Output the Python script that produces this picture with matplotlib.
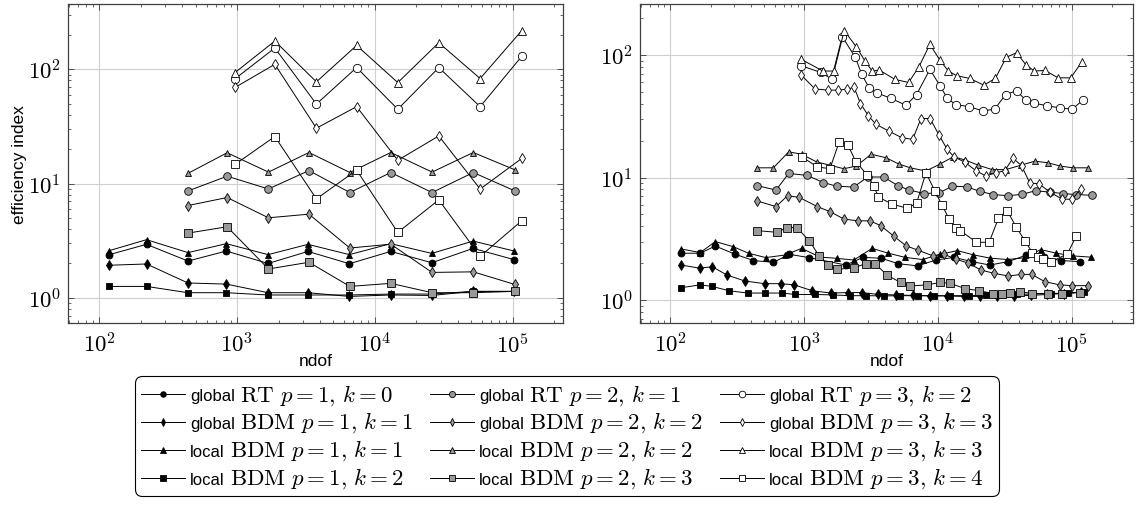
import numpy as np
import matplotlib
matplotlib.use('Agg')
import matplotlib.pyplot as plt
from matplotlib import ticker
from matplotlib.lines import Line2D
from matplotlib.offsetbox import AnchoredOffsetbox, DrawingArea, HPacker, VPacker, TextArea

plt.rcParams['font.family'] = ['Liberation Sans', 'DejaVu Sans']
plt.rcParams['mathtext.fontset'] = 'cm'

# ---------------- left panel: uniform refinement ----------------
left_ndof_p1 = [118, 220, 440, 836, 1679, 3272, 6540, 13060, 25950, 51750, 102800]
left_ndof_p2 = [441, 847, 1690, 3326, 6590, 13060, 26060, 51900, 104000]
left_ndof_p3 = [966, 1880, 3767, 7380, 14690, 29150, 58200, 116700]

left_rt1 = [2.39, 2.94, 2.10, 2.57, 2.00, 2.55, 1.99, 2.55, 2.03, 2.71, 2.16]
left_bdm1 = [1.93, 1.98, 1.35, 1.32, 1.11, 1.11, 1.03, 1.06, 1.05, 1.14, 1.14]
left_lbdm1_k1 = [2.59, 3.23, 2.49, 2.98, 2.39, 2.94, 2.39, 2.98, 2.45, 3.14, 2.57]
left_lbdm1_k2 = [1.26, 1.26, 1.11, 1.11, 1.06, 1.06, 1.06, 1.08, 1.08, 1.14, 1.14]

left_rt2 = [8.63, 11.6, 8.97, 13.0, 8.35, 12.5, 8.35, 12.5, 8.63]
left_bdm2 = [6.43, 7.55, 5.02, 5.40, 2.73, 2.95, 1.67, 1.69, 1.31]
left_lbdm2_k2 = [12.3, 18.6, 12.6, 18.7, 12.5, 18.7, 12.6, 18.7, 13.2]
left_lbdm2_k3 = [3.69, 4.19, 1.79, 2.05, 1.26, 1.34, 1.11, 1.11, 1.14]

left_rt3 = [82.5, 153.5, 49.6, 103.5, 44.7, 103.5, 47.1, 129.8]
left_bdm3 = [69.3, 110.5, 30.5, 47.1, 16.0, 26.1, 8.96, 16.6]
left_lbdm3_k3 = [93.6, 176.6, 77.6, 161.7, 76.5, 170.6, 83.0, 218.0]
left_lbdm3_k4 = [14.7, 25.8, 7.35, 13.1, 3.74, 7.2, 2.31, 4.73]

# ---------------- right panel: adaptive refinement ----------------
right_rt1_ndof = [120, 167, 216, 305, 417, 587, 773, 1084, 2043, 2748, 3767, 5030,
                  7010, 9610, 13160, 17740, 24320, 33500, 45600, 61500, 82300, 114000]
right_rt1 = [2.41, 2.41, 2.76, 2.36, 2.10, 2.03, 2.36, 2.22, 1.93, 2.23, 2.19, 1.98,
             1.90, 2.12, 2.23, 2.06, 1.93, 2.06, 2.33, 2.23, 2.10, 2.06]

right_bdm1_ndof = [120, 165, 205, 264, 359, 504, 670, 838, 1148, 1581, 2104, 2706, 3573,
                   4866, 6500, 8700, 11600, 15500, 20700, 27600, 36800, 49000, 65500,
                   87000, 116000]
right_bdm1 = [1.93, 1.82, 1.87, 1.60, 1.43, 1.36, 1.36, 1.33, 1.19, 1.14, 1.15, 1.15, 1.11,
              1.10, 1.09, 1.08, 1.08, 1.07, 1.07, 1.07, 1.08, 1.09, 1.11, 1.13, 1.16]

right_lbdm1_k1_ndof = [120, 167, 216, 293, 383, 515, 718, 955, 1309, 1741, 2344, 3208,
                       4246, 5650, 7640, 10290, 13930, 18230, 24320, 32900, 43850, 58300,
                       76400, 102300, 137600]
right_lbdm1_k1 = [2.61, 2.44, 3.00, 2.73, 2.41, 2.22, 2.33, 2.64, 2.24, 2.19, 2.12, 2.64,
                  2.41, 2.23, 2.14, 2.36, 2.53, 2.34, 2.20, 2.14, 2.21, 2.58, 2.41, 2.29, 2.24]

right_lbdm1_k2_ndof = [120, 167, 205, 274, 377, 504, 678, 857, 1208, 1644, 2188, 2911,
                       3945, 5212, 7010, 9340, 12300, 17000, 22700, 30200, 39100, 50600,
                       69200, 94000, 123000]
right_lbdm1_k2 = [1.26, 1.33, 1.29, 1.19, 1.14, 1.14, 1.14, 1.11, 1.11, 1.10, 1.085, 1.085,
                  1.08, 1.085, 1.085, 1.085, 1.085, 1.085, 1.10, 1.10, 1.11, 1.12, 1.13,
                  1.14, 1.17]

right_rt2_ndof = [441, 615, 764, 1052, 1385, 1741, 2330, 2979, 3930, 4970, 6080, 7870,
                  10170, 12790, 16340, 20550, 25830, 33420, 42500, 53400, 68200, 85700,
                  107700, 140800]
right_rt2 = [8.6, 7.9, 10.8, 10.4, 9.1, 8.5, 8.35, 10.1, 10.1, 8.6, 7.9, 7.4, 7.5, 8.5,
             8.4, 7.7, 7.26, 7.1, 7.3, 7.8, 7.6, 7.4, 7.26, 7.16]

right_bdm2_ndof = [441, 615, 751, 918, 1250, 1553, 1985, 2523, 3083, 3724, 4640, 5760,
                   7010, 9080, 11090, 13600, 16830, 20800, 26180, 33500, 41900, 49800,
                   62900, 80900, 100400, 132500]
right_bdm2 = [6.45, 5.79, 7.12, 6.87, 5.79, 5.27, 4.57, 4.43, 4.43, 4.05, 3.33, 2.77,
              2.56, 2.30, 2.36, 2.15, 2.00, 1.76, 1.65, 1.57, 1.62, 1.62, 1.41, 1.33,
              1.31, 1.31]

right_lbdm2_k2_ndof = [441, 587, 764, 955, 1236, 1553, 1973, 2450, 3155, 4074, 5070, 6190,
                       8100, 10350, 13000, 15880, 19950, 25370, 31900, 41500, 52700, 65900,
                       81800, 101700, 131400]
right_lbdm2_k2 = [12.0, 12.0, 16.2, 15.5, 13.4, 12.6, 11.8, 12.4, 15.5, 14.5, 12.9, 12.0,
                  11.3, 12.9, 14.8, 13.9, 12.6, 11.6, 11.6, 12.6, 13.6, 13.2, 12.4, 12.0, 12.0]

right_lbdm2_k3_ndof = [441, 622, 747, 877, 1089, 1286, 1492, 1751, 2344, 2865, 3381, 4170,
                       5250, 6150, 8230, 10350, 12220, 15880, 20230, 25880, 30200, 34270,
                       40650, 50600, 66500, 84700, 114000]
right_lbdm2_k3 = [3.69, 3.57, 3.90, 3.90, 3.05, 2.30, 1.93, 1.78, 1.83, 1.98, 1.98, 1.59,
                  1.39, 1.30, 1.33, 1.39, 1.37, 1.24, 1.19, 1.13, 1.11, 1.15, 1.17, 1.13,
                  1.13, 1.13, 1.15]

right_rt3_ndof = [950, 1324, 1597, 1917, 2397, 2687, 3064, 3494, 4443, 5747, 6900, 8670,
                  10350, 11730, 13520, 16980, 21550, 26430, 31900, 38500, 45100, 52300,
                  64900, 81500, 100000, 120600]
right_rt3 = [81.8, 72.1, 63.9, 141.3, 96.3, 69.5, 53.3, 49.1, 44.2, 38.9, 47.6, 76.4, 55.7,
             44.2, 39.4, 37.9, 35.0, 36.1, 47.6, 51.1, 42.8, 40.5, 38.5, 37.0, 36.1, 42.8]

right_bdm3_ndof = [950, 1200, 1492, 1791, 2078, 2356, 2627, 3013, 3433, 4317, 5366, 6444,
                   7440, 8700, 10170, 11670, 13160, 15740, 19070, 22640, 26880, 31530,
                   36150, 41950, 48400, 56500, 68300, 84700, 100400, 116000]
right_bdm3 = [68.5, 52.9, 51.7, 51.7, 52.6, 54.4, 40.2, 31.8, 27.2, 23.8, 21.1, 20.5, 30.3,
              30.3, 22.1, 17.0, 14.7, 13.4, 11.4, 10.3, 10.9, 11.4, 14.4, 12.5, 9.0, 8.9,
              7.6, 6.65, 6.65, 8.08]

right_lbdm3_k3_ndof = [950, 1377, 1672, 1985, 2439, 2830, 3208, 3637, 4757, 6010, 7140, 8670,
                       10290, 11900, 13750, 17160, 21940, 26750, 32250, 38500, 45400, 52300,
                       62800, 78800, 97800, 118600]
right_lbdm3_k3 = [92.1, 74.0, 74.0, 158.3, 117.0, 89.9, 74.0, 75.3, 63.2, 59.7, 79.2, 122.0,
                  91.0, 74.0, 67.8, 64.4, 56.8, 64.4, 95.7, 104.5, 82.8, 74.0, 74.8, 65.1,
                  65.1, 88.2]

right_lbdm3_k4_ndof = [955, 1250, 1553, 1824, 2104, 2427, 2944, 3304, 3573, 4530, 5880, 6890,
                       8100, 9440, 10650, 12080, 13550, 14600, 19320, 24040, 28200, 32700,
                       38200, 44360, 50600, 55700, 61000, 70100, 92300, 107700]
right_lbdm3_k4 = [14.8, 12.2, 11.8, 19.6, 18.6, 13.5, 10.5, 8.55, 6.92, 6.07, 5.61, 6.17,
                  10.9, 7.8, 5.98, 4.59, 3.85, 3.69, 2.96, 2.96, 4.65, 5.37, 3.97, 3.05,
                  2.44, 2.25, 2.15, 2.06, 2.38, 3.34]

# legend text: sans word + math part
label_words = ['global', 'global', 'local', 'local'] * 3
label_maths = [
    r'$\mathrm{RT}\ p=1,\,k=0$', r'$\mathrm{BDM}\ p=1,\,k=1$',
    r'$\mathrm{BDM}\ p=1,\,k=1$', r'$\mathrm{BDM}\ p=1,\,k=2$',
    r'$\mathrm{RT}\ p=2,\,k=1$', r'$\mathrm{BDM}\ p=2,\,k=2$',
    r'$\mathrm{BDM}\ p=2,\,k=2$', r'$\mathrm{BDM}\ p=2,\,k=3$',
    r'$\mathrm{RT}\ p=3,\,k=2$', r'$\mathrm{BDM}\ p=3,\,k=3$',
    r'$\mathrm{BDM}\ p=3,\,k=3$', r'$\mathrm{BDM}\ p=3,\,k=4$',
]

GRAY = '#999999'
# marker, face colour, size  (order matches labels)
styles = [
    ('o', 'black', 5), ('d', 'black', 5), ('^', 'black', 5), ('s', 'black', 5),
    ('o', GRAY, 5.5), ('d', GRAY, 5), ('^', GRAY, 5), ('s', GRAY, 5.5),
    ('o', 'white', 6), ('d', 'white', 5), ('^', 'white', 5.5), ('s', 'white', 6),
]

left_series = [
    (left_ndof_p1, left_rt1), (left_ndof_p1, left_bdm1),
    (left_ndof_p1, left_lbdm1_k1), (left_ndof_p1, left_lbdm1_k2),
    (left_ndof_p2, left_rt2), (left_ndof_p2, left_bdm2),
    (left_ndof_p2, left_lbdm2_k2), (left_ndof_p2, left_lbdm2_k3),
    (left_ndof_p3, left_rt3), (left_ndof_p3, left_bdm3),
    (left_ndof_p3, left_lbdm3_k3), (left_ndof_p3, left_lbdm3_k4),
]
right_series = [
    (right_rt1_ndof, right_rt1), (right_bdm1_ndof, right_bdm1),
    (right_lbdm1_k1_ndof, right_lbdm1_k1), (right_lbdm1_k2_ndof, right_lbdm1_k2),
    (right_rt2_ndof, right_rt2), (right_bdm2_ndof, right_bdm2),
    (right_lbdm2_k2_ndof, right_lbdm2_k2), (right_lbdm2_k3_ndof, right_lbdm2_k3),
    (right_rt3_ndof, right_rt3), (right_bdm3_ndof, right_bdm3),
    (right_lbdm3_k3_ndof, right_lbdm3_k3), (right_lbdm3_k4_ndof, right_lbdm3_k4),
]


def enlarged_limits(values, frac=0.1):
    # pgfplots style: enlarge limits by 10% of the (log) range
    lo, hi = np.log10(min(values)), np.log10(max(values))
    d = (hi - lo) * frac
    return 10 ** (lo - d), 10 ** (hi + d)


def setup_axis(ax, series):
    for (x, y), (m, fc, ms) in zip(series, styles):
        ax.plot(x, y, color='black', lw=0.7, marker=m, ms=ms, mfc=fc,
                mec='black', mew=0.6)
    ax.set_xscale('log')
    ax.set_yscale('log')
    allx = [v for x, _ in series for v in x]
    ally = [v for _, y in series for v in y]
    ax.set_xlim(*enlarged_limits(allx))
    ax.set_ylim(*enlarged_limits(ally))
    fmt = ticker.FuncFormatter(lambda v, pos: r'$10^{%d}$' % int(round(np.log10(v))))
    for axis in (ax.xaxis, ax.yaxis):
        axis.set_major_locator(ticker.LogLocator(base=10, numticks=12))
        axis.set_minor_locator(ticker.LogLocator(base=10, subs=np.arange(2, 10), numticks=12))
        axis.set_major_formatter(fmt)
        axis.set_minor_formatter(ticker.NullFormatter())
    ax.tick_params(which='both', direction='in', top=True, right=True,
                   labelsize=16.5, color='0.3')
    ax.tick_params(which='major', length=4, width=0.7)
    ax.tick_params(which='minor', length=2.2, width=0.6)
    ax.tick_params(axis='x', pad=7)
    ax.tick_params(axis='y', pad=5)
    ax.grid(True, which='major', color='#cfcfcf', lw=0.8)
    ax.set_axisbelow(True)
    for s in ax.spines.values():
        s.set_color('0.25')
        s.set_linewidth(0.9)
    ax.set_xlabel('ndof', fontsize=12.5)
    ax.xaxis.set_label_coords(0.5, -0.095)


def legend_entry(word, math, style):
    m, fc, ms = style
    da = DrawingArea(32, 12, 0, 3)
    da.add_artist(Line2D([0, 32], [4.3, 4.3], color='black', lw=0.7))
    da.add_artist(Line2D([16], [4.3], marker=m, ms=ms * 0.8, mfc=fc,
                         mec='black', mew=0.6))
    t_word = TextArea(word, textprops=dict(fontsize=12))
    t_math = TextArea(math, textprops=dict(fontsize=16.5))
    return HPacker(children=[da, t_word, t_math], align='baseline', pad=0, sep=3.5)


fig = plt.figure(figsize=(11.43, 5.06), dpi=100)
W, H = 1143, 506
ax1 = fig.add_axes([68 / W, 1 - 324 / H, (563 - 68) / W, (324 - 5) / H])
ax2 = fig.add_axes([640 / W, 1 - 324 / H, (1133 - 640) / W, (324 - 5) / H])

setup_axis(ax1, left_series)
setup_axis(ax2, right_series)
ax1.set_ylabel('efficiency index', fontsize=12.5)
ax1.yaxis.set_label_coords(-0.083, 0.5)

# legend: 3 columns (p = 1, 2, 3), 4 rows
columns = []
for c in range(3):
    entries = [legend_entry(label_words[i], label_maths[i], styles[i])
               for i in range(4 * c, 4 * c + 4)]
    columns.append(VPacker(children=entries, align='left', pad=0, sep=2.2))
legend_body = HPacker(children=columns, align='top', pad=0, sep=12)
legend_box = AnchoredOffsetbox(loc='center', child=legend_body, pad=0.4, borderpad=0,
                               frameon=True, bbox_to_anchor=(567 / W, 1 - 437 / H),
                               bbox_transform=fig.transFigure, prop=dict(size=10))
legend_box.patch.set_boxstyle('round,pad=0,rounding_size=0.5')
legend_box.patch.set_edgecolor('black')
legend_box.patch.set_linewidth(0.8)
fig.add_artist(legend_box)

fig.savefig('out.png', dpi=100)
